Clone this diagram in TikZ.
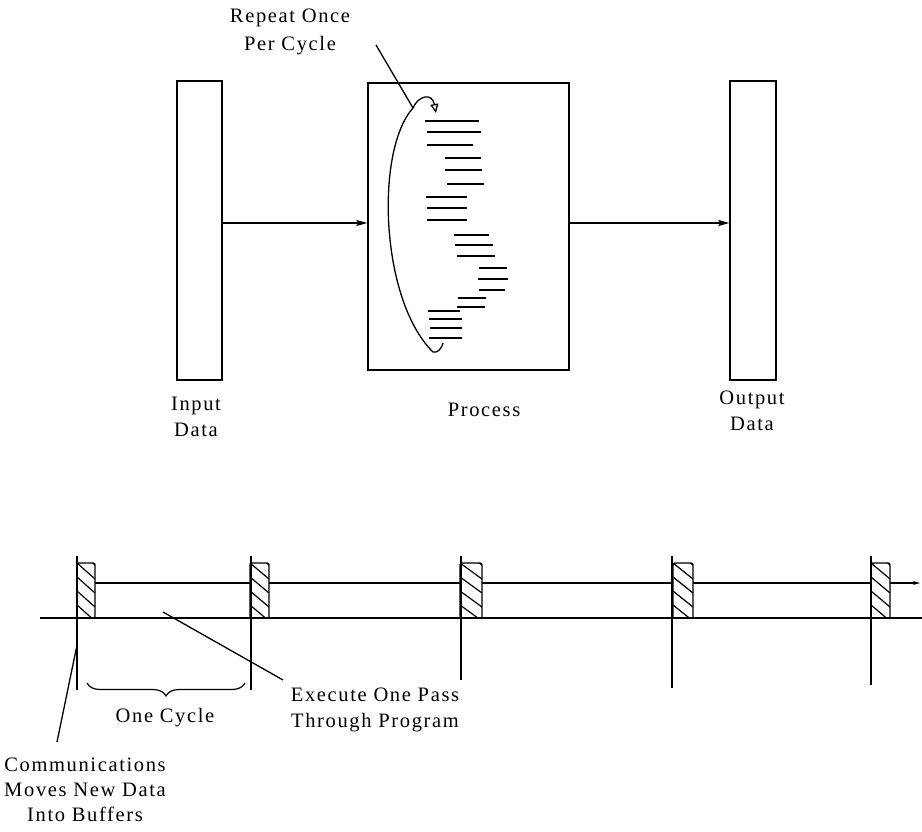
\documentclass[tikz,border=0pt]{standalone}
\usepackage{fontspec}
\setmainfont{Liberation Serif}[LetterSpace=8.0]
\usetikzlibrary{arrows.meta,decorations.pathreplacing}
\begin{document}
\begin{tikzpicture}[x=1pt,y=-1pt,line width=1.3pt,
  blk/.style={draw,line width=1.4pt,inner sep=0pt},
  lbl/.style={align=center,font=\fontsize{20.5}{26}\selectfont,inner sep=0pt},
  arr/.style={-{Stealth[length=11pt,width=6pt,inset=2pt]}},
  dashln/.style={line width=2pt},
  hatchbox/.style={draw,line width=1.4pt}]
\useasboundingbox (0,0) rectangle (922,832);

% ---- top diagram ----
\node[blk,minimum width=45pt,minimum height=299pt] (in) at (199.5,230.5) {};
\node[blk,minimum width=201pt,minimum height=287pt] (proc) at (468.5,226.5) {};
\node[blk,minimum width=46pt,minimum height=299pt] (out) at (753,230.5) {};

\draw[arr] ([yshift=7.5pt]in.east) -- ([yshift=3.5pt]proc.west);
\draw[arr] ([yshift=3.5pt]proc.east) -- ([yshift=7.5pt]out.west);

\node[lbl] (inlbl) at (196,417) {Input\\Data};
\node[lbl] (proclbl) at (484,410) {Process};
\node[lbl] (outlbl) at (752,411) {Output\\Data};
\node[lbl,font=\fontsize{20.5}{28}\selectfont] (rep) at (290,32) {Repeat Once\\Per Cycle};

% program lines
\foreach \a/\b/\y in {425/479/121,427/481/132,427/473/145,445/481/158,445/482/170,447/484/184,
  426/467/197,427/467/208,427/467/220,454/489/235,455/493/245,457/495/256,479/507/268,
  478/508/279,479/505/290,458/486/298,457/485/307,428/460/311,429/462/319,430/462/328,429/462/338}
  \draw[dashln] (\a,\y) -- (\b,\y);

% repeat loop
\coordinate (loopstart) at (443,343);
\coordinate (looptop) at (413,108);
\draw[-{Triangle[open,length=9pt,width=8pt]}] (loopstart) .. controls (441,350) and (437,353) .. (433,352)
  .. controls (380,300) and (375,150) .. (looptop)
  .. controls (418,96) and (432,92) .. (436,113);
\coordinate (repptr) at (376,45);
\draw (repptr) -- (looptop);

% ---- timeline ----
\draw (40,618) -- (922,618);
\foreach \x/\yb in {77/690,251/690,461/680,672/688,871/685}
  \draw (\x,556) -- (\x,\yb);

% program bars
\draw (95,583) -- (250,583);
\draw (269,583) -- (460,583);
\draw (482,583) -- (673,583);
\draw (693,583) -- (871,583);
\draw[-{Stealth[length=7pt,width=4pt]}] (890,583) -- (920,583);

% hatched boxes
\foreach \xa/\xb in {77/95,250/269,460/482,673/693,871/890}{
  \begin{scope}
    \clip (\xa,563) rectangle (\xb,618);
    \foreach \k in {-1,0,1,2,3,4}
      \draw[line width=1.2pt] (\xa,563+14*\k) -- (\xb,563+14*\k+16);
  \end{scope}
  \draw[hatchbox,rounded corners=2pt] (\xa,618) -- (\xa,563) -- (\xb,563) -- (\xb,618);
}

% brace
\draw[line width=1.2pt,decorate,decoration={brace,amplitude=13pt}] (245,683) -- (87,683);
\node[lbl] (cyc) at (165,718) {One Cycle};

% execute pointer
\node[lbl] (exe) at (375,710) {Execute One Pass\\Through Program};
\coordinate (exeA) at (163,612);
\coordinate (exeB) at (283,680);
\draw (exeA) -- (exeB);

% communications pointer
\node[lbl,font=\fontsize{20.5}{25}\selectfont] (comm) at (85,790) {Communications\\Moves New Data\\Into Buffers};
\coordinate (commA) at (77,645);
\coordinate (commB) at (57,742);
\draw (commA) -- (commB);
\end{tikzpicture}
\end{document}
